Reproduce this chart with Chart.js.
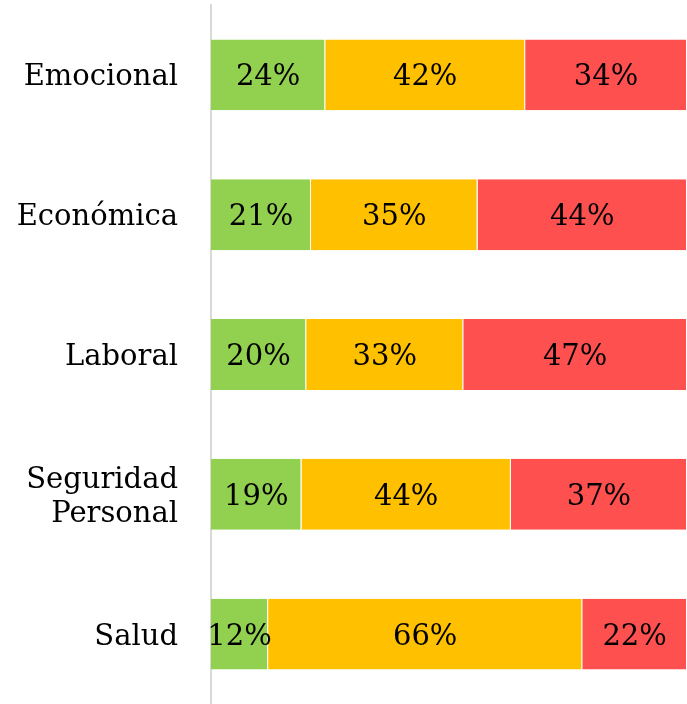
<!DOCTYPE html>
<html>
<head>
<meta charset="utf-8">
<script src="https://cdn.jsdelivr.net/npm/chart.js@4"></script>
<style>
  html, body { margin: 0; padding: 0; background: #fff; }
  #wrap { width: 687px; height: 704px; }
</style>
</head>
<body>
<div id="wrap"><canvas id="myChart"></canvas></div>
<script>
  const categories = ['Emocional', 'Económica', 'Laboral', ['Seguridad', 'Personal'], 'Salud'];
  const bajo = [24, 21, 20, 19, 12];
  const medio = [42, 35, 33, 44, 66];
  const alto = [34, 44, 47, 37, 22];

  const fontFam = '"DejaVu Serif", "Liberation Serif", serif';

  // draws the % label in the middle of each segment
  const pctLabels = {
    id: 'pctLabels',
    afterDatasetsDraw(chart) {
      const c = chart.ctx;
      c.save();
      c.font = '29px ' + fontFam;
      c.fillStyle = '#000';
      c.textAlign = 'center';
      c.textBaseline = 'middle';
      chart.data.datasets.forEach((ds, i) => {
        chart.getDatasetMeta(i).data.forEach((bar, j) => {
          const x = (bar.x + bar.base) / 2;
          c.fillText(ds.data[j] + '%', x, bar.y + 3);
        });
      });
      c.restore();
    }
  };

  const ctx = document.getElementById('myChart');

  new Chart(ctx, {
    type: 'bar',
    data: {
      labels: categories,
      datasets: [
        { data: bajo, backgroundColor: '#92D050' },
        { data: medio, backgroundColor: '#FFC000' },
        { data: alto, backgroundColor: '#FF5050' }
      ]
    },
    options: {
      indexAxis: 'y',
      responsive: true,
      maintainAspectRatio: false,
      animation: false,
      datasets: {
        bar: {
          barPercentage: 0.507,
          categoryPercentage: 1,
          borderColor: '#ffffff',
          borderWidth: { right: 1, left: 0, top: 0, bottom: 0 },
          borderSkipped: false
        }
      },
      layout: { padding: { top: 5, right: 0, bottom: 0, left: 0 } },
      plugins: {
        legend: { display: false },
        tooltip: { enabled: false }
      },
      scales: {
        x: {
          display: false,
          stacked: true,
          min: 0,
          max: 100
        },
        y: {
          stacked: true,
          grid: { display: false, drawTicks: false },
          border: { display: true, color: '#d9d9d9', width: 2 },
          ticks: {
            color: '#000',
            padding: 33,
            labelOffset: 3,
            font: { family: fontFam, size: 29, lineHeight: 1.17 }
          },
          afterFit(scale) {
            scale.width = 211;
            scale.paddingTop = 0;
            scale.paddingBottom = 0;
          }
        }
      }
    },
    plugins: [pctLabels]
  });
</script>
</body>
</html>
